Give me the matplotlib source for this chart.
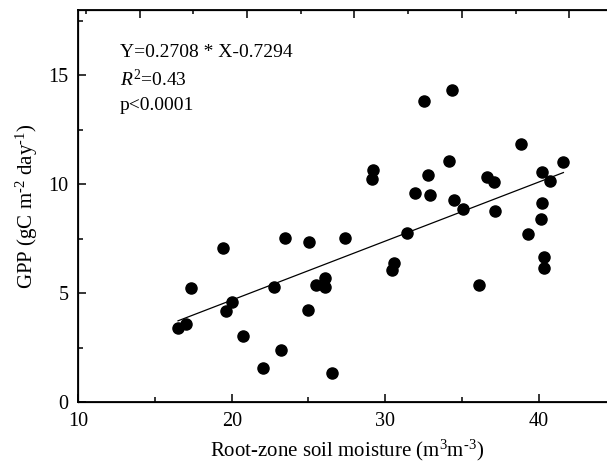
import numpy as np
import matplotlib
matplotlib.use("Agg")
import matplotlib.pyplot as plt
from matplotlib.ticker import MultipleLocator

# root-zone soil moisture (m3 m-3) and GPP (gC m-2 day-1)
soil_moisture = [16.50, 17.00, 17.33, 19.43, 19.63, 20.04, 20.74, 22.06, 22.74, 23.23,
                 23.47, 25.03, 25.00, 25.50, 26.08, 26.08, 26.54, 27.39, 29.13, 29.23,
                 30.45, 30.58, 31.41, 31.94, 32.56, 32.82, 32.93, 34.19, 34.38, 34.49,
                 35.10, 36.10, 36.66, 37.12, 37.18, 38.84, 39.32, 40.23, 40.18, 40.25,
                 40.77, 40.36, 40.36, 41.62]
gpp = [3.42, 3.59, 5.24, 7.06, 4.20, 4.60, 3.04, 1.59, 5.29, 2.41,
       7.54, 7.36, 4.23, 5.37, 5.70, 5.27, 1.33, 7.54, 10.23, 10.66,
       6.07, 6.38, 7.77, 9.60, 13.82, 10.41, 9.52, 11.08, 14.33, 9.28,
       8.88, 5.39, 10.35, 10.11, 8.76, 11.85, 7.72, 10.58, 8.39, 9.13,
       10.15, 6.67, 6.18, 11.04]

slope, intercept = 0.2708, -0.7294
stats_lines = ["Y=0.2708 * X-0.7294", r"$\it{R}^{2}$=0.43", "p<0.0001"]

plt.rcParams["font.family"] = ["Liberation Serif", "DejaVu Serif"]
plt.rcParams["mathtext.fontset"] = "custom"
plt.rcParams["mathtext.rm"] = "Liberation Serif"
plt.rcParams["mathtext.it"] = "Liberation Serif:italic"

fig = plt.figure(figsize=(6.07, 4.63), dpi=100)
ax = fig.add_axes([0.129, 0.1311, 0.8846, 0.8473])

x = np.array(soil_moisture)
y = np.array(gpp)
ax.plot(x, y, "o", color="black", markersize=8, zorder=3)

xl = np.array([x.min(), x.max()])
ax.plot(xl, slope * xl + intercept, color="black", lw=0.9, zorder=2)

ax.set_xlim(10, 45)
ax.set_ylim(0, 18)
ax.xaxis.set_major_locator(MultipleLocator(10))
ax.xaxis.set_minor_locator(MultipleLocator(5))
ax.yaxis.set_major_locator(MultipleLocator(5))
ax.yaxis.set_minor_locator(MultipleLocator(2.5))
ax.tick_params(which="major", direction="in", length=5.8, width=1.1, labelsize=14.5, pad=7)
ax.tick_params(which="minor", direction="in", length=3.4, width=1.1)
for s in ax.spines.values():
    s.set_linewidth(1.3)

# top / right frame ticks (5 divisions each)
axt = ax.twiny()
axt.set_xlim(10, 45)
axt.xaxis.set_major_locator(MultipleLocator(7))
axt.xaxis.set_minor_locator(MultipleLocator(3.5))
axt.tick_params(which="major", direction="in", length=5.8, width=1.1, labeltop=False)
axt.tick_params(which="minor", direction="in", length=3.2, width=1.1)
axr = ax.twinx()
axr.set_ylim(0, 18)
axr.yaxis.set_major_locator(MultipleLocator(3.6))
axr.yaxis.set_minor_locator(MultipleLocator(1.8))
axr.tick_params(which="major", direction="in", length=5.8, width=1.1, labelright=False)
axr.tick_params(which="minor", direction="in", length=3.2, width=1.1)

ax.set_xlabel(r"Root-zone soil moisture (m$^{\text{3}}$m$^{\text{-3}}$)", fontsize=15, labelpad=5)
ax.set_ylabel(r"GPP (gC m$^{\text{-2}}$ day$^{\text{-1}}$)", fontsize=15, labelpad=6)

for txt, yy in zip(stats_lines, [15.83, 14.52, 13.41]):
    ax.text(12.72, yy, txt, fontsize=14, va="baseline", ha="left")

fig.savefig("out.png", dpi=100)
